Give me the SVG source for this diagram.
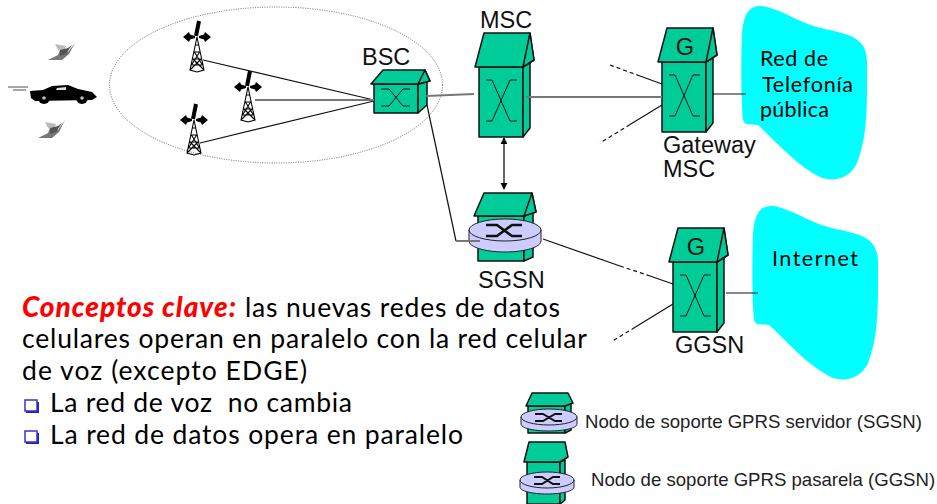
<svg xmlns="http://www.w3.org/2000/svg" width="937" height="504" viewBox="0 0 937 504">
<style>
.a{font-family:"Liberation Sans",Arial,sans-serif;font-size:23.5px;fill:#111}
.c{font-family:"Lato","Open Sans",sans-serif;fill:#000}
.b{font-size:26.5px}
.s{font-size:21.5px}
.h{font-size:28px;font-weight:900;font-style:italic;fill:#ff0000}
.l{font-family:"Liberation Sans",Arial,sans-serif;font-size:18.6px;fill:#222}
.g{fill:#00cc99;stroke:#111;stroke-width:1.5;stroke-linejoin:round}
.x{fill:none;stroke:#111;stroke-width:1}
.xr{fill:none;stroke:#111;stroke-width:2.6}
.d{fill:#ccccff;stroke:#222;stroke-width:1}
.k{fill:none;stroke:#111;stroke-width:1.2}
.t{fill:none;stroke:#777;stroke-width:2}
.cloud{fill:#00ffff}
.bul{fill:#fff;stroke:#3333cc;stroke-width:1.5}
.bs{fill:#2222bb}
</style>
<defs>
<marker id="ah" viewBox="0 0 10 10" refX="9" refY="5" markerWidth="7" markerHeight="8" orient="auto-start-reverse" markerUnits="userSpaceOnUse"><path d="M0,0L10,5L0,10Z" fill="#000"/></marker>
<g id="tower">
<path d="M0,0L-7,33L0,35L7,33Z M-1.2,8L1.2,8M-2.6,15L2.6,15M-4,22L4,22M-5.5,28L5.5,28M-7,33L4,22M7,33L-4,22M-5.5,28L2.6,15M5.5,28L-2.6,15" fill="none" stroke="#000" stroke-width="1.1"/>
<path d="M-1,-1L2,-16" stroke="#000" stroke-width="4"/>
<path d="M-14,0L-8,-5L-7,-2.5L-2,-1L-2,1L-7,2.5L-8,5Z M14,0L8,-5L7,-2.5L2,-1L2,1L7,2.5L8,5Z" fill="#000"/>
</g>
<g id="tall">
<path class="g" d="M0,0L44,0L44,70L0,70Z"/>
<path class="g" d="M44,0L51,-6L51,61L44,70Z"/>
<path class="g" d="M-4,0L5,-34L51,-34L55,-7L44,0Z"/>
<path class="g" d="M51,-34L44,0L55,-7Z"/>
<path class="x" d="M7,13L13,13L31,54L38,54M7,54L13,54L31,13L38,13"/>
</g>
<path id="cl" class="cloud" d="M742,33C744,10 752,5 762,6C785,10 800,25 830,30C850,35 867,38 867,62C867,105 868,135 857,163C850,178 835,182 822,178C795,165 775,140 758,125C750,124 745,126 743,120C741,100 741,60 742,33Z"/>
</defs>

<ellipse cx="276" cy="85" rx="166.5" ry="78" fill="none" stroke="#666" stroke-width="1" stroke-dasharray="1 1.4"/>

<g id="car">
<path d="M8,87L28,87" stroke="#888" stroke-width="1.5"/><path d="M13,90L26,90" stroke="#888" stroke-width="1.5"/>
<path d="M30,91L43,90L52,86L68,85L78,89L92,92L97,97L92,100L35,101L31,98Z" fill="#000"/>
<circle cx="44" cy="98" r="6" fill="#000"/><circle cx="82" cy="98" r="6" fill="#000"/>
<circle cx="44" cy="98" r="1.8" fill="#bbb"/><circle cx="82" cy="98" r="1.8" fill="#bbb"/>
<path d="M57,88L66,87L66,90L56,90Z" fill="#ddd"/>
</g>
<g id="phone1">
<path d="M48,60L58,55L60,50L68,52L75,43L69,54L62,60Z" fill="#777"/>
<path d="M55,44L66,46L64,52L58,50Z" fill="#bbb"/>
<path d="M60,50L68,48L72,45L66,54L60,56Z" fill="#555"/>
</g>
<g id="phone2">
<path d="M38,138L48,133L50,128L58,130L65,120L59,132L52,138Z" fill="#777"/>
<path d="M45,122L56,124L54,130L48,128Z" fill="#bbb"/>
<path d="M50,128L58,126L62,123L56,132L50,134Z" fill="#555"/>
</g>

<g id="tower1"><use href="#tower" x="197" y="37"/></g>
<g id="tower2"><use href="#tower" x="248" y="87"/></g>
<g id="tower3"><use href="#tower" x="194" y="120"/></g>

<g id="bsc">
<path class="g" d="M374,84L418,84L418,113L374,113Z"/>
<path class="g" d="M418,84L427,81L427,105L418,113Z"/>
<path class="g" d="M371,84L383,70L425,70L430,81L418,84Z"/>
<path class="g" d="M425,70L418,84L430,81Z"/>
<path class="x" d="M381,89L389,89L403,106L410,106M381,106L389,106L403,89L410,89"/>
<text class="a" x="362" y="65">BSC</text>
</g>

<g id="msc">
<use href="#tall" x="479" y="67"/>
<text class="a" x="480" y="28">MSC</text>
</g>

<g id="gateway">
<use href="#tall" x="662" y="62"/>
<text class="a" x="685" y="55" text-anchor="middle">G</text>
<text class="a" x="663" y="153">Gateway</text>
<text class="a" x="663" y="177">MSC</text>
</g>

<g id="sgsn">
<path class="g" d="M478,216L524,216L524,261L478,261Z"/>
<path class="g" d="M524,216L533,212L533,257L524,261Z"/>
<path class="g" d="M474,216L484,193L532,193L536,212L524,216Z"/>
<path class="g" d="M532,193L524,216L536,212Z"/>
<path class="d" d="M469,230L469,241C469,247 485,252 505,252C525,252 541,247 541,241L541,230Z"/>
<ellipse class="d" cx="505" cy="230" rx="36" ry="11"/>
<path class="xr" d="M486,225L497,225L512,236L522,236M486,236L497,236L512,225L522,225"/>
<text class="a" x="478" y="288">SGSN</text>
</g>

<g id="ggsn">
<use href="#tall" x="673" y="262"/>
<text class="a" x="696" y="255" text-anchor="middle">G</text>
<text class="a" x="675" y="353">GGSN</text>
</g>

<g id="telefonia">
<use href="#cl"/>
<text class="c s"><tspan x="760" y="66" textLength="68">Red de</tspan><tspan x="762" y="92" textLength="91">Telefonía</tspan><tspan x="760" y="117" textLength="69">pública</tspan></text>
</g>
<g id="internet">
<use href="#cl" x="11" y="200"/>
<text class="c s" x="772" y="266" textLength="86">Internet</text>
</g>

<g id="connectors">
<path class="k" d="M203,60L374,100M200,143L374,101"/>
<path class="t" d="M255,100L374,100M426,96L474,94"/>
<path class="k" d="M427,105L456,241"/>
<path class="t" d="M456,241L480,241M526,97L662,97"/>
<path class="k" d="M640,76L662,84M630,124.600L662,105M713,94L746,94M726,293L758,293"/>
<path class="k" d="M610,65L640,76M630,124.600L600,143" stroke-dasharray="4 3"/>
<path class="k" d="M543,239L620,266M650,276L673,284M635,327.300L673,304"/>
<path class="k" d="M620,266L650,276M635,327.300L611,342" stroke-dasharray="4 3"/>
<path d="M504,138L504,189" stroke="#000" stroke-width="1.2" marker-start="url(#ah)" marker-end="url(#ah)"/>
</g>

<g id="texto">
<text class="c h" x="22" y="317" textLength="214">Conceptos clave:</text>
<text class="c b" x="245" y="317" textLength="315">las nuevas redes de datos</text>
<text class="c b" x="22" y="348" textLength="565">celulares operan en paralelo con la red celular</text>
<text class="c b" x="22" y="380" textLength="285">de voz (excepto EDGE)</text>
<rect class="bs" x="26" y="402" width="13" height="11"/>
<rect class="bul" x="25" y="400" width="12" height="11"/>
<text class="c b" x="50" y="412" textLength="302" xml:space="preserve">La red de voz  no cambia</text>
<rect class="bs" x="26" y="433" width="13" height="11"/>
<rect class="bul" x="25" y="431" width="12" height="11"/>
<text class="c b" x="50" y="444" textLength="413">La red de datos opera en paralelo</text>
</g>

<g id="leyenda-sgsn">
<path class="g" d="M528,406L565,406L565,433L528,433Z"/>
<path class="g" d="M565,406L571,403L571,430L565,433Z"/>
<path class="g" d="M526,406L532,393L568,393L573,403L565,406Z"/>
<path class="d" d="M521,417L521,424C521,428 533,431 549,431C565,431 577,428 577,424L577,417Z"/>
<ellipse class="d" cx="549" cy="417" rx="28" ry="8"/>
<path class="xr" d="M535,414L543,414L555,421L562,421M535,421L543,421L555,414L562,414" style="stroke-width:2"/>
<text class="l" x="585" y="428">Nodo de soporte GPRS servidor (SGSN)</text>
</g>
<g id="leyenda-ggsn">
<path class="g" d="M527,462L560,462L560,504L527,504Z"/>
<path class="g" d="M560,462L565,460L565,500L560,504Z"/>
<path class="g" d="M524,462L529,442L565,442L568,457L560,462Z"/>
<path class="d" d="M520,480L520,487C520,491 532,494 547,494C562,494 574,491 574,487L574,480Z"/>
<ellipse class="d" cx="547" cy="480" rx="27" ry="8"/>
<path class="xr" d="M534,477L542,477L553,484L560,484M534,484L542,484L553,477L560,477" style="stroke-width:2"/>
<text class="l" x="591" y="486">Nodo de soporte GPRS pasarela (GGSN)</text>
</g>
</svg>
